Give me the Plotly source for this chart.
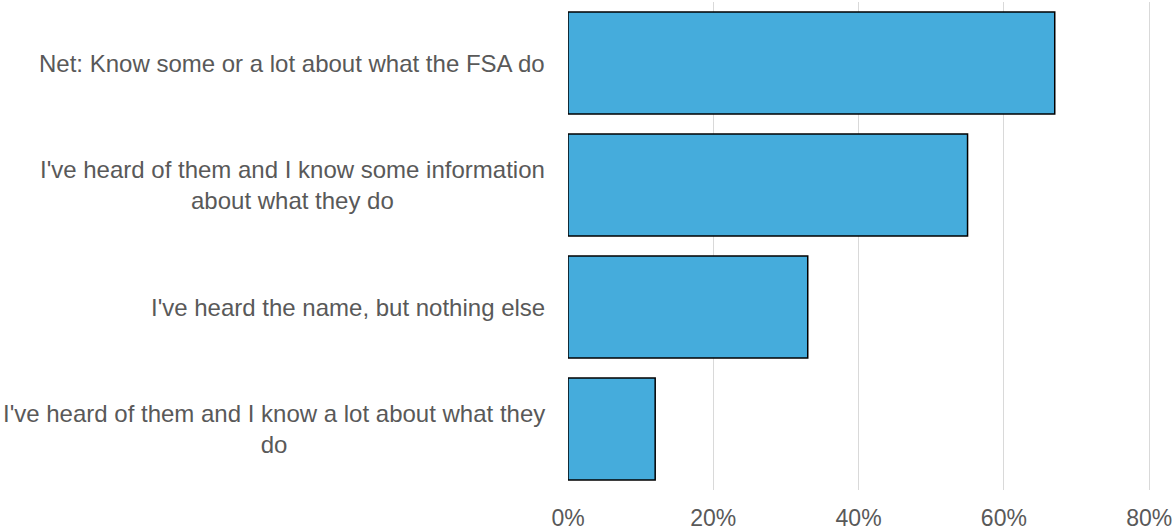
import plotly.graph_objects as go

categories = [
    "Net: Know some or a lot about what the FSA do",
    "I've heard of them and I know some information<br>about what they do",
    "I've heard the name, but nothing else",
    "I've heard of them and I know a lot about what they<br>do",
]
values = [67, 55, 33, 12]
x_ticks = [0, 20, 40, 60, 80]

font_color = "#595959"
font_family = "Arial, 'Liberation Sans', sans-serif"

fig = go.Figure()
fig.add_trace(go.Bar(
    x=values,
    y=list(range(len(categories))),
    orientation="h",
    marker=dict(color="#45ACDC", line=dict(color="#000000", width=1.5)),
    hoverinfo="x",
))

# category labels as annotations so wrapped lines stay centred
for i, label in enumerate(categories):
    fig.add_annotation(
        x=0, xref="paper", y=i, yref="y",
        text=label, showarrow=False,
        xanchor="right", align="center", xshift=-21,
        font=dict(family=font_family, size=24, color=font_color),
    )

fig.update_layout(
    width=1174, height=531,
    margin=dict(l=568, r=23, t=2, b=41),
    plot_bgcolor="white", paper_bgcolor="white",
    bargap=0.164,
    showlegend=False,
    font=dict(family=font_family, size=23, color=font_color),
)
fig.update_xaxes(
    range=[0, 80.25], tickvals=x_ticks, ticktext=[f"{v}%" for v in x_ticks],
    showgrid=True, gridcolor="#D9D9D9", gridwidth=1.3,
    zeroline=False, showline=False, ticks="",
    ticklabelstandoff=12, automargin=False,
    tickfont=dict(size=23, color=font_color),
)
fig.update_yaxes(
    range=[3.5, -0.5], showticklabels=False, showgrid=False,
    zeroline=False, showline=False, ticks="", automargin=False,
)

fig.write_html(
    "out.html",
    config={"displayModeBar": False},
    post_script="document.body.style.margin='0';",
)
